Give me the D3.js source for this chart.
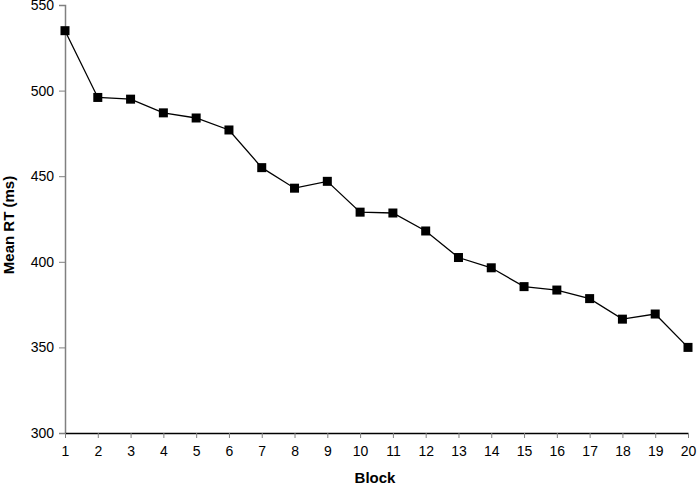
<!DOCTYPE html>
<html><head><meta charset="utf-8">
<script src="https://cdn.jsdelivr.net/npm/d3@7"></script>
<style>body{margin:0;background:#fff}svg{display:block}text{font-family:"Liberation Sans",Arial,sans-serif}</style>
</head><body>
<svg id="c" width="698" height="494"></svg>
<script>
const blocks = d3.range(1, 21);
const meanRT = [535, 496, 495, 487, 484, 477, 455, 443, 447, 429, 428.5, 418, 402.5, 396.5, 385.5, 383.5, 378.5, 366.5, 369.5, 350];
const yTicks = [300, 350, 400, 450, 500, 550];

const svg = d3.select("#c");
const L = 65, R = 688, T = 5, B = 433;
const x = d3.scaleLinear().domain([1, 20]).range([L, R]);
const y = d3.scaleLinear().domain([300, 550]).range([B, T]);

// y axis
const ya = svg.append("g").attr("transform", `translate(${L},0)`)
  .call(d3.axisLeft(y).tickValues(yTicks).tickSize(6).tickPadding(5));
ya.select(".domain").attr("stroke", "#808080").attr("stroke-width", 1.5);
ya.selectAll(".tick line").attr("stroke", "#808080");
ya.selectAll(".tick text").attr("font-size", 14).attr("fill", "#000")
  .style("font-family", "Liberation Sans, Arial, sans-serif");

// x axis
const xa = svg.append("g").attr("transform", `translate(0,${B})`)
  .call(d3.axisBottom(x).tickValues(blocks).tickFormat(d3.format("d")).tickSize(5).tickSizeOuter(0).tickPadding(8));
xa.select(".domain").attr("stroke", "#000").attr("stroke-width", 1.3);
xa.selectAll(".tick line").attr("stroke", "#808080");
xa.selectAll(".tick text").attr("font-size", 14).attr("fill", "#000")
  .style("font-family", "Liberation Sans, Arial, sans-serif");

// line
const pts = blocks.map((b, i) => [b, meanRT[i]]);
svg.append("path").datum(pts)
  .attr("fill", "none").attr("stroke", "#000").attr("stroke-width", 1.3)
  .attr("d", d3.line().x(d => x(d[0])).y(d => y(d[1])));

const s = 9;
svg.selectAll("rect.m").data(pts).join("rect").attr("class", "m")
  .attr("x", d => x(d[0]) - s / 2).attr("y", d => y(d[1]) - s / 2)
  .attr("width", s).attr("height", s).attr("fill", "#000");

// labels
svg.append("text").attr("x", 375).attr("y", 483).attr("text-anchor", "middle")
  .attr("font-size", 15).attr("font-weight", "bold").text("Block");
svg.append("text").attr("transform", `translate(14,${(T + B) / 2 + 6}) rotate(-90)`)
  .attr("text-anchor", "middle").attr("font-size", 15).attr("font-weight", "bold").text("Mean RT (ms)");
</script>
</body></html>
